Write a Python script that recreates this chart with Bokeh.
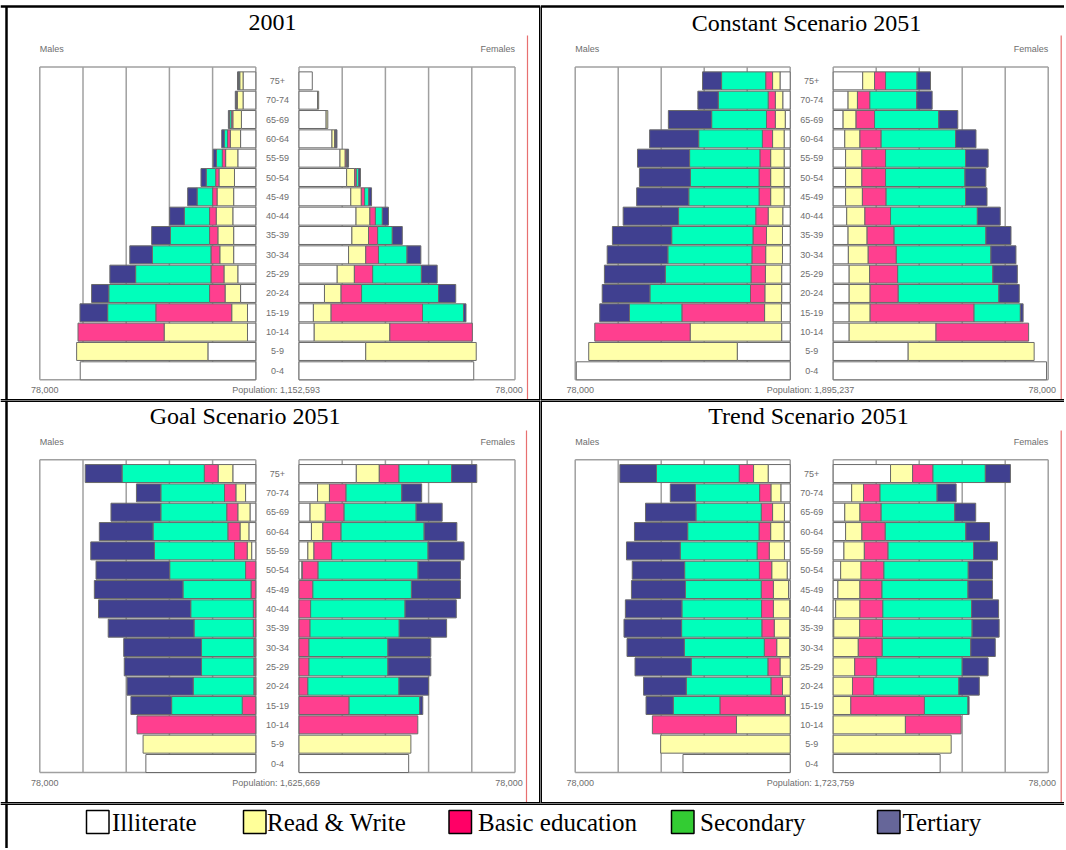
import numpy as np
from bokeh.plotting import figure
from bokeh.layouts import column, row
from bokeh.models import Range1d
from bokeh.core.properties import value
from bokeh.embed import file_html
from bokeh.resources import INLINE

# ---------------- data ----------------
AGE_GROUPS = ["0-4", "5-9", "10-14", "15-19", "20-24", "25-29", "30-34", "35-39",
              "40-44", "45-49", "50-54", "55-59", "60-64", "65-69", "70-74", "75+"]
EDUCATION = ["Illiterate", "Read & Write", "Basic education", "Secondary", "Tertiary"]
BAR_COLORS = ["#FFFFFF", "#FFFFAA", "#FF3F8F", "#00FFBB", "#404090"]
LEGEND_COLORS = ["#FFFFFF", "#FFFF99", "#FF0066", "#33CC33", "#666699"]
TITLES = ["2001", "Constant Scenario 2051", "Goal Scenario 2051", "Trend Scenario 2051"]
POPULATION_LABELS = ["1,152,593", "1,895,237", "1,625,669", "1,723,759"]
AXIS_MAX = 78000
GRID_STEP = 15600

# thousands of persons; rows = age groups 0-4 .. 75+,
# columns = Illiterate, Read & Write, Basic, Secondary, Tertiary
males_2001 = [
    [63.4, 0, 0, 0, 0], [17.3, 47.4, 0, 0, 0], [3.0, 30.1, 31.1, 0, 0],
    [3.0, 5.7, 27.4, 17.4, 10.0], [5.5, 5.6, 5.6, 36.4, 6.2], [6.5, 5.0, 4.7, 27.2, 9.3],
    [8.0, 5.0, 3.2, 21.1, 8.2], [8.0, 5.7, 3.0, 14.1, 6.8], [8.3, 6.0, 2.4, 9.1, 5.3],
    [8.0, 6.0, 1.6, 5.6, 3.4], [7.7, 5.6, 1.2, 3.4, 1.9], [6.5, 4.4, 1.2, 2.1, 1.2],
    [5.5, 3.7, 1.0, 1.2, 0.9], [5.2, 3.1, 0.6, 0.6, 0.4], [4.6, 2.1, 0.2, 0.1, 0.4],
    [4.6, 1.2, 0.2, 0.2, 0.4]]
females_2001 = [
    [63.1, 0, 0, 0, 0], [24.1, 39.9, 0, 0, 0], [5.5, 27.3, 29.8, 0, 0],
    [5.2, 6.4, 33.0, 14.8, 0.9], [9.2, 6.0, 7.4, 27.8, 6.2], [13.8, 6.2, 6.6, 17.6, 5.7],
    [17.9, 6.2, 4.6, 10.3, 5.0], [19.1, 6.0, 3.3, 5.3, 3.6], [20.6, 5.0, 2.0, 2.5, 2.2],
    [18.7, 3.8, 1.2, 1.5, 1.0], [17.2, 2.9, 0.6, 0.9, 0.6], [14.8, 1.9, 0.5, 0.2, 0.5],
    [11.9, 1.0, 0.2, 0.2, 0.4], [9.8, 0.6, 0, 0, 0], [6.7, 0.4, 0, 0, 0],
    [4.8, 0, 0, 0, 0]]
males_constant = [
    [77.6, 0, 0, 0, 0], [19.2, 53.9, 0, 0, 0], [3.1, 33.2, 34.6, 0, 0],
    [3.2, 6.1, 30.0, 19.0, 10.8], [3.1, 6.1, 5.2, 36.5, 17.3], [3.1, 5.9, 5.2, 31.1, 22.1],
    [2.8, 6.1, 5.0, 30.5, 22.0], [2.8, 5.8, 4.9, 29.5, 21.5], [2.7, 5.3, 4.5, 28.0, 20.1],
    [2.2, 4.9, 4.2, 25.5, 18.9], [2.2, 4.9, 4.2, 24.9, 18.5], [2.2, 4.9, 3.9, 25.5, 18.9],
    [2.2, 4.2, 3.7, 23.1, 17.8], [1.8, 3.6, 3.2, 19.9, 15.7], [2.7, 2.7, 2.6, 18.1, 7.4],
    [3.7, 2.7, 2.5, 16.0, 6.9]]
females_constant = [
    [77.4, 0, 0, 0, 0], [27.2, 45.7, 0, 0, 0], [5.8, 31.5, 33.6, 0, 0],
    [5.8, 7.6, 37.7, 16.8, 1.0], [5.8, 7.6, 10.2, 36.5, 7.4], [5.8, 7.4, 10.2, 34.5, 8.9],
    [5.5, 7.2, 10.2, 34.3, 9.1], [5.4, 6.9, 9.8, 33.3, 9.1], [4.9, 6.6, 9.3, 31.5, 8.3],
    [4.5, 6.1, 8.6, 28.8, 7.8], [4.5, 5.9, 8.6, 28.8, 7.6], [4.5, 5.9, 8.6, 29.0, 8.2],
    [4.2, 5.5, 7.7, 27.0, 7.4], [3.6, 4.7, 6.7, 23.3, 6.9], [5.4, 3.4, 4.5, 17.0, 5.6],
    [10.7, 4.3, 4.0, 11.4, 4.9]]
males_goal = [
    [39.7, 0, 0, 0, 0], [0, 40.7, 0, 0, 0], [0, 0, 42.9, 0, 0],
    [0, 0, 4.9, 25.5, 14.7], [0, 0, 0.7, 21.9, 23.9], [0, 0, 0.7, 18.9, 27.9],
    [0, 0, 0.7, 18.9, 28.1], [0, 0, 0.9, 21.4, 31.0], [0, 0, 0.9, 22.6, 33.3],
    [0, 0, 1.7, 24.6, 32.0], [0, 0, 3.7, 27.4, 26.6], [1.5, 1.6, 4.6, 28.9, 23.0],
    [2.5, 3.2, 4.4, 27.0, 19.4], [2.1, 4.4, 4.0, 23.8, 18.0], [3.7, 3.5, 4.1, 23.0, 8.8],
    [8.3, 5.3, 5.0, 29.7, 13.3]]
females_goal = [
    [39.6, 0, 0, 0, 0], [0, 40.4, 0, 0, 0], [0, 0, 42.9, 0, 0],
    [0, 0, 18.1, 25.5, 1.1], [0, 0, 3.2, 32.9, 10.7], [0, 0, 3.6, 28.5, 15.5],
    [0, 0, 3.6, 28.5, 15.5], [0, 0, 4.0, 32.2, 17.1], [0, 0, 4.2, 34.1, 18.5],
    [0, 0, 5.0, 35.6, 17.7], [1.1, 0.1, 5.7, 36.1, 15.3], [3.2, 2.2, 6.4, 34.8, 13.0],
    [4.5, 4.1, 6.6, 30.0, 11.8], [4.0, 5.5, 6.8, 26.0, 9.4], [6.7, 4.3, 6.0, 20.1, 7.2],
    [20.7, 8.3, 7.1, 19.0, 9.1]]
males_trend = [
    [38.9, 0, 0, 0, 0], [0, 47.0, 0, 0, 0], [0, 19.5, 30.5, 0, 0],
    [0, 1.8, 23.7, 16.9, 9.9], [0, 2.8, 4.2, 30.7, 15.5], [0, 3.7, 4.4, 27.8, 20.4],
    [0.2, 4.7, 4.5, 29.0, 20.8], [0.2, 5.6, 4.5, 29.1, 20.9], [0.2, 5.9, 4.3, 28.9, 20.5],
    [0.6, 5.5, 4.4, 27.5, 19.6], [1.1, 5.6, 4.5, 27.1, 19.0], [2.1, 5.5, 4.4, 27.9, 19.5],
    [2.2, 4.9, 4.2, 25.9, 19.3], [2.1, 4.3, 4.1, 23.7, 18.3], [3.4, 3.6, 4.1, 23.3, 9.1],
    [8.0, 5.3, 5.2, 30.0, 13.3]]
females_trend = [
    [38.8, 0, 0, 0, 0], [0, 42.8, 0, 0, 0], [0, 26.2, 20.2, 0, 0],
    [0, 6.4, 26.7, 15.8, 0.4], [0, 7.0, 7.7, 30.9, 7.4], [0, 7.8, 8.0, 31.0, 9.4],
    [0, 9.1, 8.7, 32.1, 8.9], [0.2, 9.4, 8.3, 32.5, 9.8], [0.9, 8.8, 8.3, 32.2, 9.8],
    [1.7, 8.0, 8.0, 31.2, 8.9], [2.7, 7.4, 8.3, 30.6, 8.8], [3.9, 7.4, 8.6, 31.0, 8.7],
    [4.5, 5.9, 8.5, 29.2, 8.6], [4.2, 5.5, 7.7, 26.7, 7.6], [6.7, 4.3, 6.0, 20.7, 6.9],
    [20.8, 8.0, 7.4, 19.0, 9.1]]

MALES = [males_2001, males_constant, males_goal, males_trend]
FEMALES = [females_2001, females_constant, females_goal, females_trend]

# ---------------- layout parameters ----------------
HALF_GAP = 7800
PITCH = 19.33
BAR_H = 0.93
TOP_IDX = 15.72
BOT_IDX = -BAR_H / 2

SERIF = value("Liberation Serif")
SANS = value("Liberation Sans")
SMALL = value("9px")
GREY_TXT = "#6e6e6e"
GRID_COLOR = "#a0a0a0"
BAR_LINE = "#6a6a6a"


def make_panel(k, W, H, center_px, half_px, zero_px, borders, red_px, red_top_px,
               title_dx_px):
    upp = AXIS_MAX / half_px  # population units per pixel
    xr = (-center_px * upp, (W - center_px) * upp)
    yr = (-(H - zero_px) / PITCH, zero_px / PITCH)

    def X(fx):
        return xr[0] + fx * (xr[1] - xr[0]) / W

    def Y(fy):
        return yr[1] - fy * (yr[1] - yr[0]) / H

    p = figure(width=W, height=H, x_range=Range1d(*xr), y_range=Range1d(*yr),
               output_backend="svg", toolbar_location=None, min_border=0,
               x_axis_location=None, y_axis_location=None,
               outline_line_color=None, background_fill_color="white",
               border_fill_color="white")
    p.grid.visible = False

    edge = HALF_GAP + AXIS_MAX
    # pyramid boxes and grid lines
    gx = [HALF_GAP + j * GRID_STEP for j in range(6)]
    vx = [-g for g in gx] + gx
    p.segment(x0=vx, x1=vx, y0=[BOT_IDX] * len(vx), y1=[TOP_IDX] * len(vx),
              line_color=GRID_COLOR, line_width=1.5)
    hx0 = [-edge, -edge, HALF_GAP, HALF_GAP]
    hx1 = [-HALF_GAP, -HALF_GAP, edge, edge]
    hy = [TOP_IDX, BOT_IDX, TOP_IDX, BOT_IDX]
    p.segment(x0=hx0, x1=hx1, y0=hy, y1=hy, line_color=GRID_COLOR, line_width=1.5)

    # stacked bars
    idx = np.arange(len(AGE_GROUPS))
    for sign, table in ((-1, MALES[k]), (1, FEMALES[k])):
        arr = np.array(table, dtype=float) * 1000.0
        cum = np.cumsum(arr, axis=1)
        start = cum - arr
        for c in range(len(EDUCATION)):
            m = arr[:, c] > 0
            inner = HALF_GAP + start[m, c]
            outer = HALF_GAP + cum[m, c]
            if sign < 0:
                left, right = -outer, -inner
            else:
                left, right = inner, outer
            p.hbar(y=idx[m], left=left, right=right, height=BAR_H,
                   fill_color=BAR_COLORS[c], line_color=BAR_LINE, line_width=1)

    # red marker line
    rx = X(center_px + red_px)
    p.segment(x0=[rx], x1=[rx], y0=[Y(red_top_px)], y1=[Y(H)],
              line_color="#E87070", line_width=1.2)

    # texts
    p.text(x=[X(center_px + title_dx_px)], y=[18.0], text=[TITLES[k]],
           text_font=SERIF, text_font_size=value("24px"), text_color="black",
           text_align="center", text_baseline="middle")
    p.text(x=[-edge], y=[16.63], text=["Males"], text_font=SANS, text_font_size=SMALL,
           text_color=GREY_TXT, text_align="left", text_baseline="middle")
    p.text(x=[edge], y=[16.63], text=["Females"], text_font=SANS, text_font_size=SMALL,
           text_color=GREY_TXT, text_align="right", text_baseline="middle")
    p.text(x=[0] * len(AGE_GROUPS), y=idx, text=AGE_GROUPS, text_font=SANS,
           text_font_size=SMALL, text_color=GREY_TXT, text_align="center",
           text_baseline="middle")
    lab = f"{AXIS_MAX:,}"
    p.text(x=[-edge + 5 * upp, 0, edge - 6 * upp], y=[-1.0] * 3,
           text=[lab, "Population:  " + POPULATION_LABELS[k], lab],
           text_font=SANS, text_font_size=SMALL, text_color=GREY_TXT,
           text_align="center", text_baseline="middle")

    # black table borders (given in figure pixels)
    if borders:
        p.segment(x0=[X(b[0]) for b in borders], y0=[Y(b[1]) for b in borders],
                  x1=[X(b[2]) for b in borders], y1=[Y(b[3]) for b in borders],
                  line_color="black", line_width=[b[4] for b in borders])
    return p


W1, W2 = 540, 524
H1, H2, H3 = 400, 403, 45

p1 = make_panel(0, W1, H1, 276.9, 216, 370.3,
                [(0, 6, W1, 6, 2.5), (6, 6, 6, H1, 2.5), (W1, 6, W1, H1, 3),
                 (0, H1, W1, H1, 3)],
                250.1, 35, -4.9)
p2 = make_panel(1, W2, H1, 271.2, 215, 370.3,
                [(0, 6, W2, 6, 2.5), (0, 6, 0, H1, 3), (0, H1, W2, H1, 3)],
                249.5, 35, -5.2)
p3 = make_panel(2, W1, H2, 276.9, 216, 363.0,
                [(0, 0, W1, 0, 3), (6, 0, 6, H2, 2.5), (W1, 0, W1, H2, 3),
                 (0, H2, W1, H2, 3)],
                249.1, 30, -32.3)
p4 = make_panel(3, W2, H2, 271.2, 215, 363.0,
                [(0, 0, W2, 0, 3), (0, 0, 0, H2, 3), (0, H2, W2, H2, 3)],
                249.5, 30, -3.2)

# ---------------- legend strip ----------------
LW = W1 + W2
LEGEND_BOX_X = [86, 243, 448.5, 671, 877]
LEGEND_TEXT_X = [111.5, 266.5, 477.5, 699.5, 902]
leg = figure(width=LW, height=H3, x_range=Range1d(0, LW), y_range=Range1d(0, H3),
             output_backend="svg", toolbar_location=None, min_border=0,
             x_axis_location=None, y_axis_location=None, outline_line_color=None,
             background_fill_color="white", border_fill_color="white")
leg.grid.visible = False
bl = np.array(LEGEND_BOX_X, dtype=float)
leg.quad(left=bl, right=bl + 22.5, bottom=[15] * 5, top=[38] * 5,
         fill_color=LEGEND_COLORS, line_color="black", line_width=1.5)
leg.text(x=LEGEND_TEXT_X, y=[26] * 5, text=EDUCATION, text_font=SERIF,
         text_font_size=value("25px"), text_color="black", text_align="left",
         text_baseline="middle")
leg.segment(x0=[0, 6], y0=[H3, H3], x1=[LW, 6], y1=[H3, 0], line_color="black",
            line_width=[3, 2.5])

layout = column(row(p1, p2, spacing=0), row(p3, p4, spacing=0), leg, spacing=0)

open("out.html", "w").write(file_html(layout, INLINE))
